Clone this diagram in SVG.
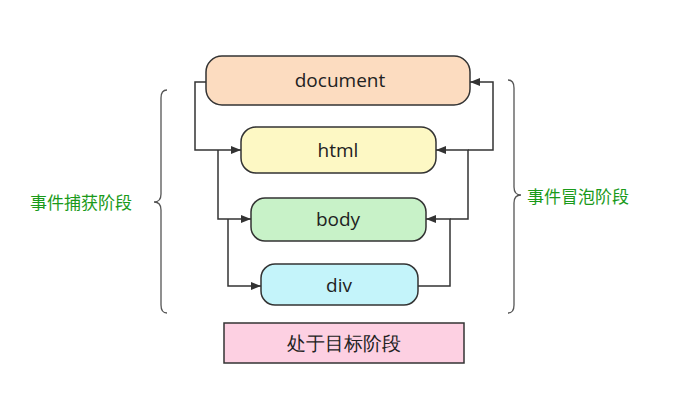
<svg xmlns="http://www.w3.org/2000/svg" width="680" height="413" viewBox="0 0 680 413">
<defs>
<style>
.n{stroke:#333;stroke-width:1.5}
.t{font-family:"Open Sans","Noto Sans",sans-serif;font-size:19px;fill:#222;text-anchor:middle;dominant-baseline:central}
.c{fill:none;stroke:#333;stroke-width:1.5}
.b{fill:none;stroke:#555;stroke-width:1.3}
.g{font-family:"Noto Sans CJK SC",sans-serif;font-size:17px;fill:#1a9a1a}
</style>
<marker id="a" markerWidth="10" markerHeight="8" refX="10" refY="4" orient="auto" markerUnits="userSpaceOnUse"><path d="M0,0L10,4L0,8z" fill="#333"/></marker>
</defs>
<rect width="680" height="413" fill="#fff"/>
<g id="document"><rect class="n" x="206" y="56" width="264" height="49" rx="16" fill="#fcdcc0"/><text class="t" x="340" y="80" font-size="21">document</text></g>
<g id="html"><rect class="n" x="241" y="127" width="195" height="46" rx="15" fill="#fdf8c4"/><text class="t" x="338" y="150">html</text></g>
<g id="body"><rect class="n" x="251" y="198" width="175" height="43" rx="14" fill="#c8f2c8"/><text class="t" x="338" y="219">body</text></g>
<g id="div"><rect class="n" x="261" y="264" width="157" height="41" rx="14" fill="#c4f4fa"/><text class="t" x="339" y="285">div</text></g>
<g id="target"><rect x="224" y="323" width="240" height="40" fill="#fdd0e2" stroke="#333" stroke-width="1.5"/><text class="t" x="344" y="343" font-family="Noto Sans CJK SC,sans-serif" font-size="17">处于目标阶段</text></g>
<g id="connectors">
<path class="c" d="M206,82H195V150H241" marker-end="url(#a)"/>
<path class="c" d="M218,150V219H251" marker-end="url(#a)"/>
<path class="c" d="M228,219V286H261" marker-end="url(#a)"/>
<path class="c" d="M418,286H450V219H426" marker-end="url(#a)"/>
<path class="c" d="M450,219H468V150H436" marker-end="url(#a)"/>
<path class="c" d="M468,150H493V82H470" marker-end="url(#a)"/>
</g>
<g id="braces">
<path class="b" d="M167,90Q161,90 161,98V194Q161,202 154,202Q161,202 161,210V305Q161,313 167,313"/>
<path class="b" d="M508,80Q514,80 514,88V187Q514,195 521,195Q514,195 514,203V305Q514,313 508,313"/>
</g>
<text class="g" x="30" y="209" font-size="19">事件捕获阶段</text>
<text class="g" x="527" y="203">事件冒泡阶段</text>
</svg>
